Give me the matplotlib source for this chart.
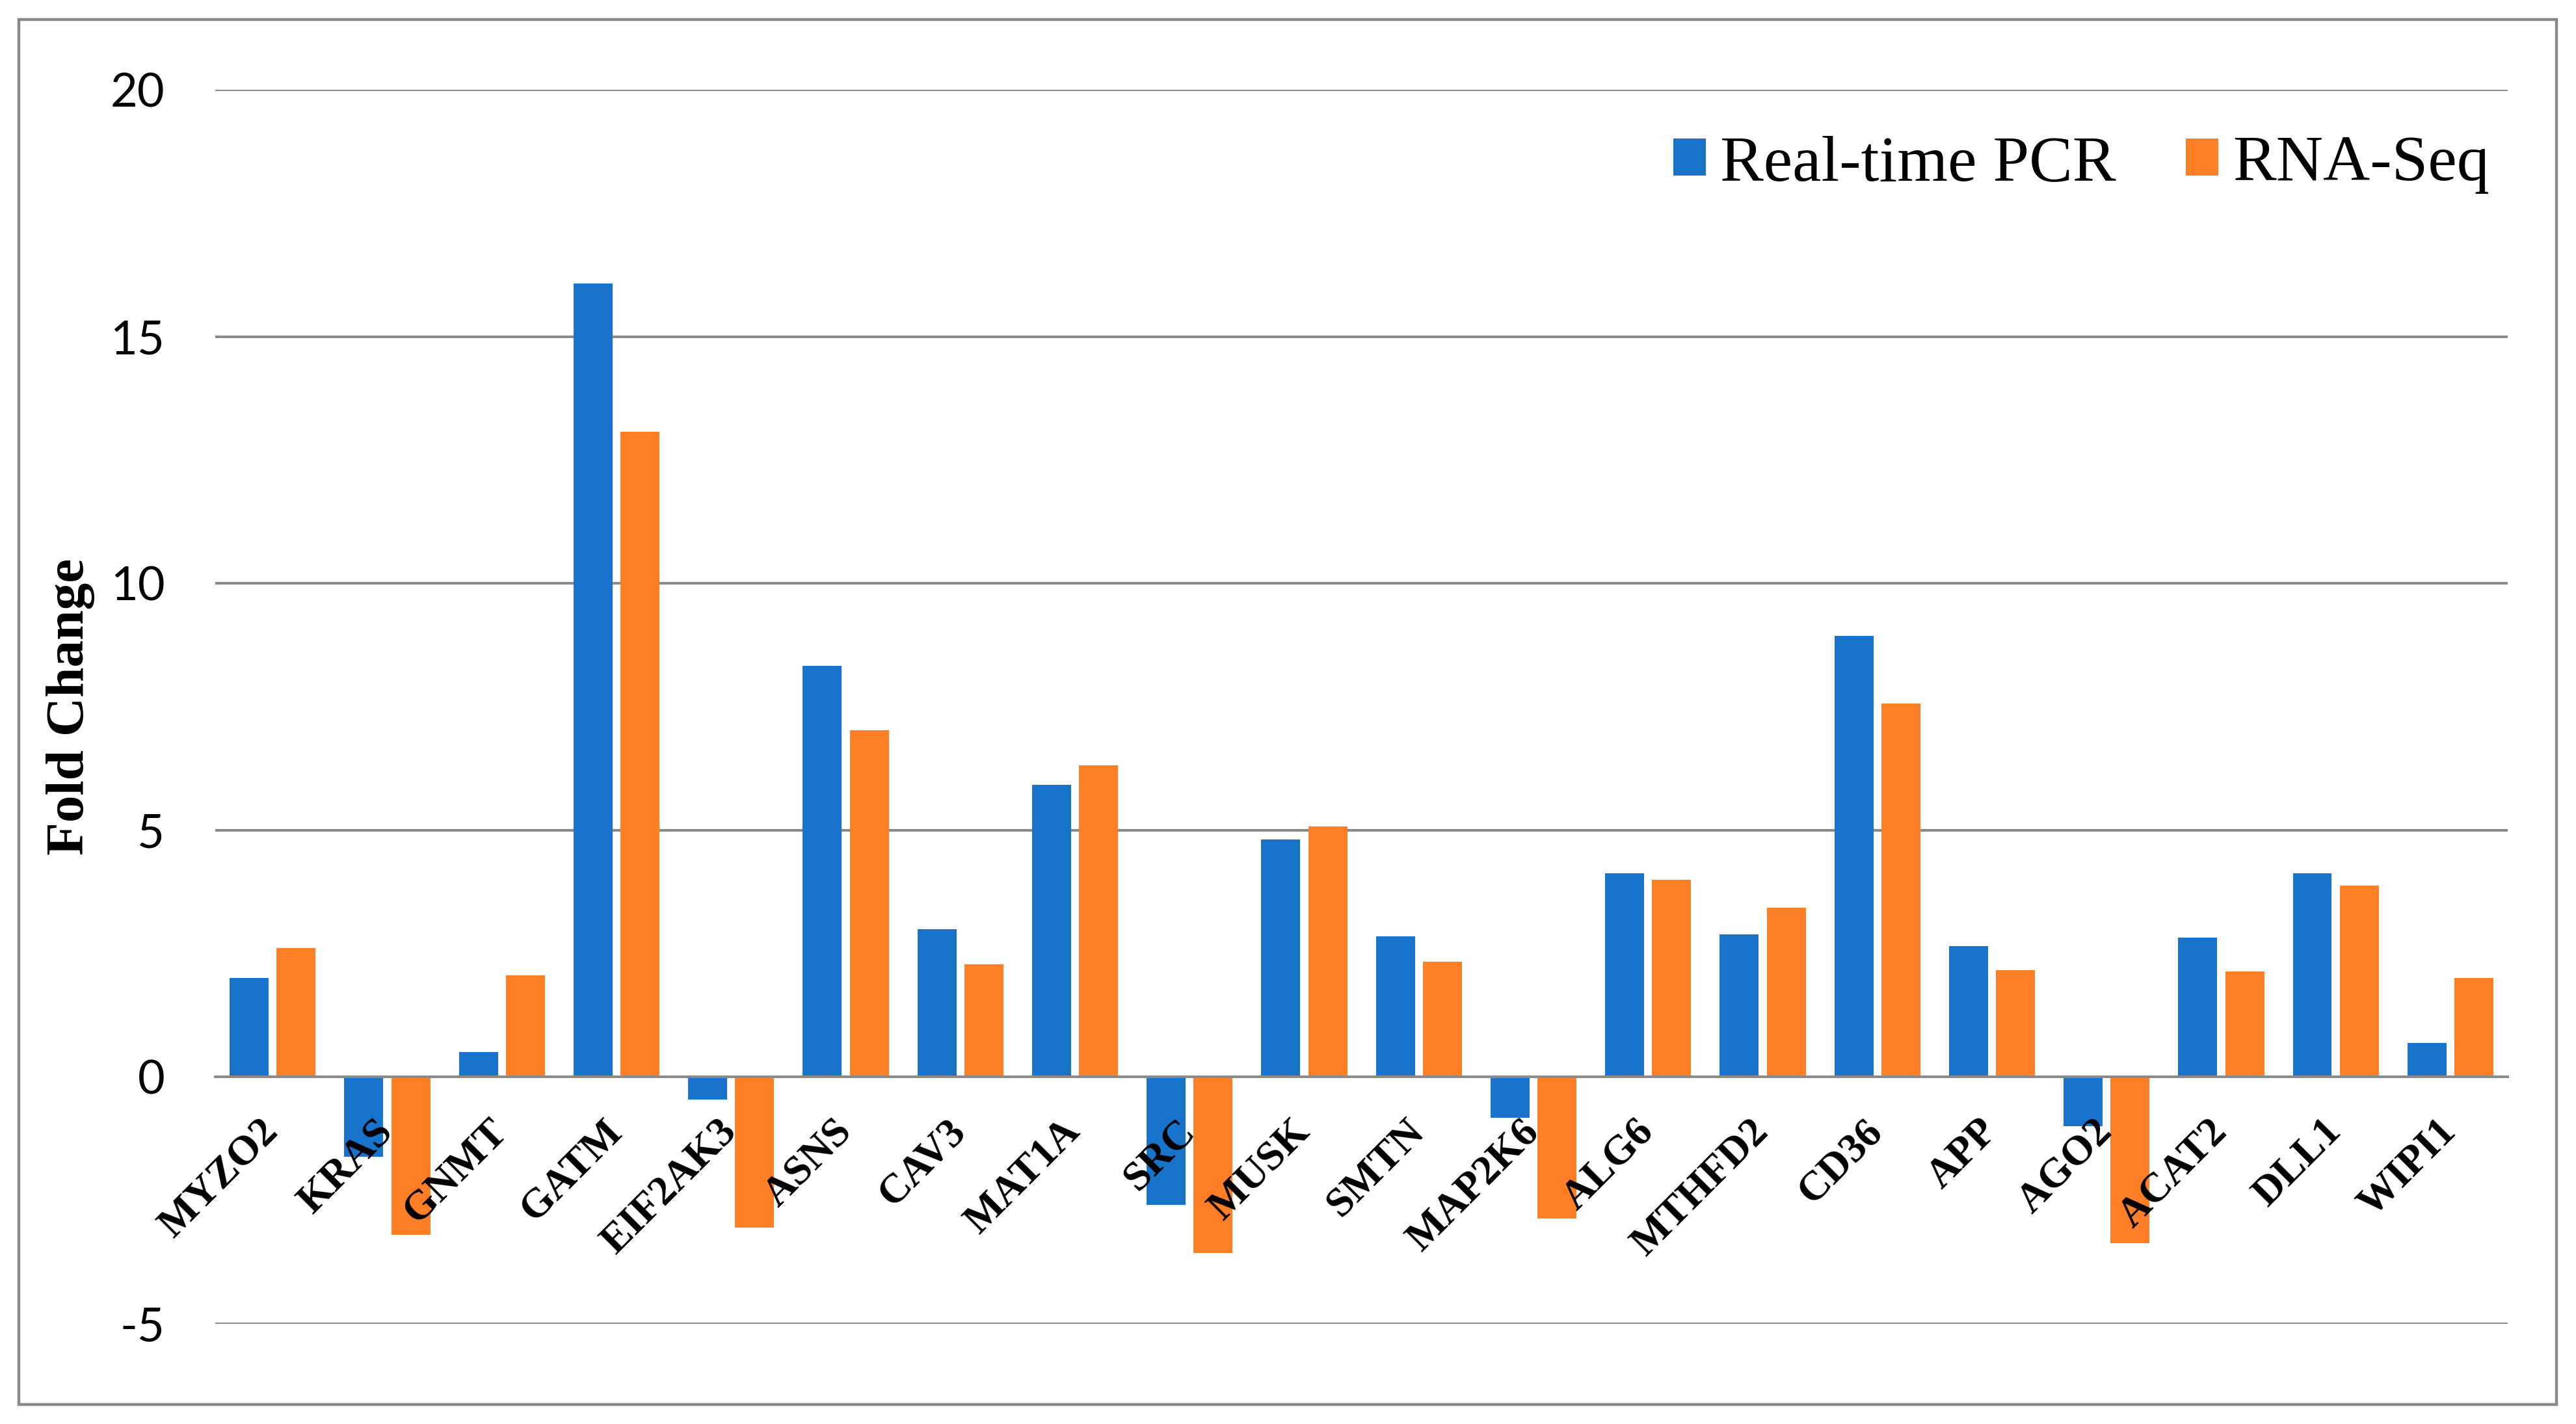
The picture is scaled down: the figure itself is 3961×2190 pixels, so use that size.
import matplotlib.pyplot as plt
import numpy as np
from matplotlib.patches import Rectangle

genes = ['MYZO2', 'KRAS', 'GNMT', 'GATM', 'EIF2AK3', 'ASNS', 'CAV3', 'MAT1A', 'SRC', 'MUSK',
         'SMTN', 'MAP2K6', 'ALG6', 'MTHFD2', 'CD36', 'APP', 'AGO2', 'ACAT2', 'DLL1', 'WIPI1']
pcr = [2.01, -1.62, 0.50, 16.08, -0.45, 8.33, 3.00, 5.92, -2.59, 4.81,
       2.85, -0.82, 4.13, 2.89, 8.93, 2.65, -1.00, 2.82, 4.13, 0.69]
rnaseq = [2.62, -3.20, 2.06, 13.07, -3.05, 7.02, 2.29, 6.32, -3.56, 5.07,
          2.34, -2.86, 4.00, 3.43, 7.57, 2.17, -3.36, 2.14, 3.88, 2.01]
yticks = [-5, 0, 5, 10, 15, 20]

blue = '#1874CA'
orange = '#FF7F27'
gray = '#898989'

fig = plt.figure(figsize=(19.805, 10.95), dpi=200)
ax = fig.add_axes([0.0836, 0.0703, 0.8899, 0.8667])

ind = np.arange(len(genes))
width = 0.34
ax.bar(ind - 0.205, pcr, width, color=blue, label='Real-time PCR', zorder=2)
ax.bar(ind + 0.205, rnaseq, width, color=orange, label='RNA-Seq', zorder=2)

ax.set_xlim(-0.5, len(genes) - 0.5)
ax.set_ylim(-5, 20)
ax.set_yticks(yticks)
ax.set_yticklabels([str(t) for t in yticks], fontsize=26, family='Lato')
ax.yaxis.grid(True, color=gray, linewidth=1.44)
ax.set_axisbelow(True)
# gene names are drawn over the bars
ax.xaxis.set_zorder(3)

for s in ['top', 'left', 'right']:
    ax.spines[s].set_visible(False)
ax.spines['bottom'].set_position(('data', 0))
ax.spines['bottom'].set_color(gray)
ax.spines['bottom'].set_linewidth(1.44)
ax.spines['bottom'].set_zorder(3)

ax.set_xticks(ind)
ax.set_xticklabels(genes, rotation=45, ha='right', va='center', rotation_mode='anchor',
                   fontsize=23, fontweight='bold', family='Liberation Serif')
ax.tick_params(axis='x', length=0, pad=27)
ax.tick_params(axis='y', length=0, pad=28)

ax.set_ylabel('Fold Change', fontsize=30, fontweight='bold', family='Liberation Serif')
ax.yaxis.set_label_coords(-0.0525, 0.5)

fig.legend(loc='center right', bbox_to_anchor=(0.9664, 0.8846), ncol=2, frameon=False,
           prop={'family': 'Liberation Serif', 'size': 36},
           handlelength=0.5, handleheight=0.5, handletextpad=0.22, columnspacing=1.08,
           borderpad=0, borderaxespad=0)

fig.patches.append(Rectangle((29 / 3961, 1 - 2160 / 2190), 3902 / 3961, 2130.5 / 2190,
                             transform=fig.transFigure, fill=False, edgecolor=gray, linewidth=1.6))

plt.savefig('out.png')
